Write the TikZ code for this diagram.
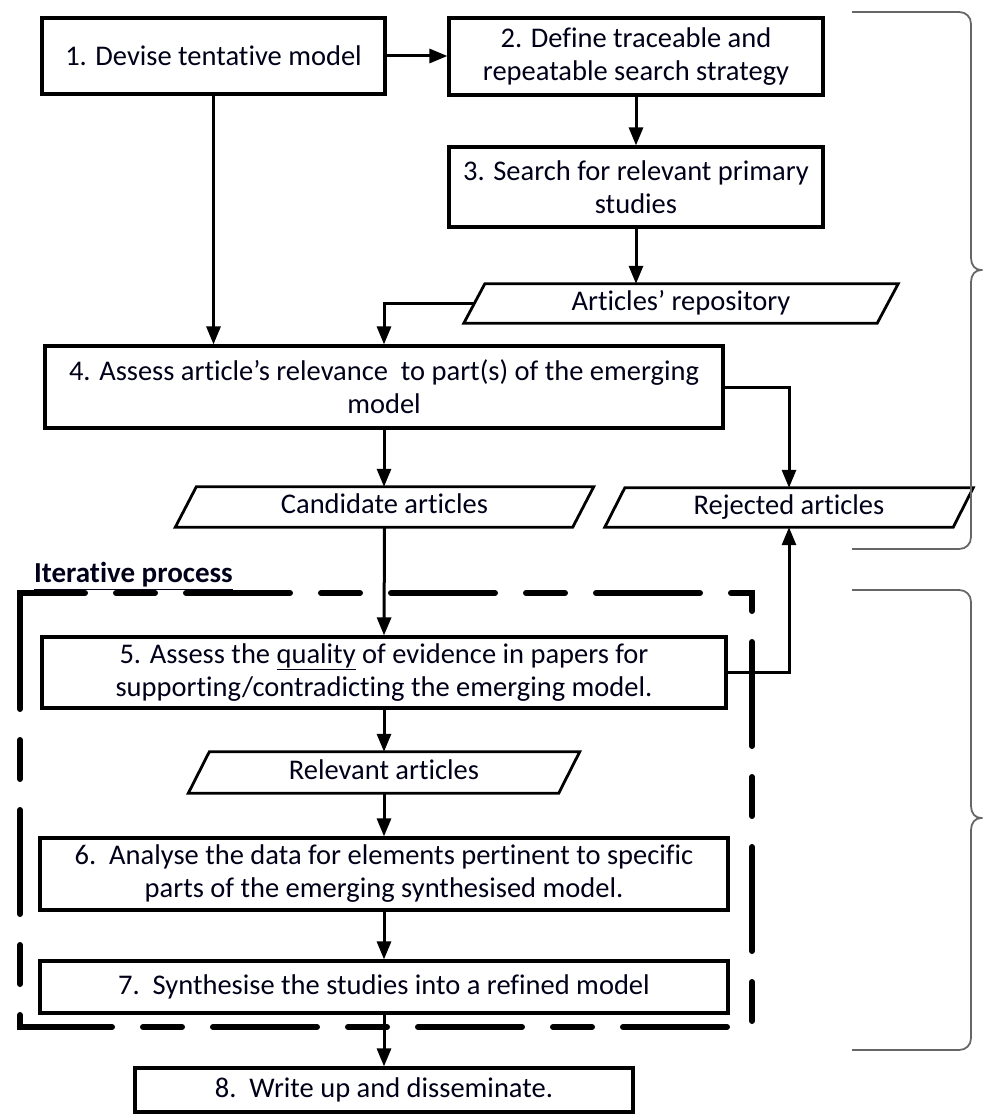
\documentclass[tikz,border=0pt]{standalone}
\usepackage{fontspec}
\setmainfont[Ligatures=NoCommon]{Carlito}
\usetikzlibrary{arrows.meta,calc}
\newcommand\drawpara[2]{\draw[boxline] ([xshift=-#2]#1.south west) -- ([xshift=#2]#1.north west) -- ([xshift=#2]#1.north east) -- ([xshift=-#2]#1.south east) -- cycle;}
\begin{document}
\begin{tikzpicture}[x=1pt,y=-1pt,
  txt/.style={font=\fontsize{28.5}{33}\selectfont, text=black!90!blue},
  stepbox/.style={txt, draw, line width=3.2pt, inner sep=0pt, align=center},
  paranode/.style={txt, inner sep=0pt, align=center, text height=19pt, text depth=6pt},
  boxline/.style={line width=2.8pt, line join=miter},
  arr/.style={line width=3pt, -{Triangle[length=18pt,width=14pt]}},
  bracestyle/.style={line width=1.8pt, draw=black!60},
  iterbox/.style={line width=6pt, line cap=round, dash pattern=on 104pt off 31pt on 39pt off 31pt, dash phase=0pt}
]
\useasboundingbox (0,0) rectangle (982,1118);

% boxes
\node[stepbox, minimum width=343pt, minimum height=76pt] (b1) at (213.5,56) {1. Devise tentative model};
\node[stepbox, minimum width=374pt, minimum height=77pt] (b2) at (636,56.5) {2. Define traceable and\\repeatable search strategy};
\node[stepbox, minimum width=374pt, minimum height=80pt] (b3) at (636,187) {3. Search for relevant primary\\studies};
\node[paranode, minimum width=413pt, minimum height=39pt] (repo) at (681,303.5) {Articles’ repository};
\drawpara{repo}{10.5pt}
\node[stepbox, minimum width=678pt, minimum height=82pt] (b4) at (384,387) {4. Assess article’s relevance\ \ to part(s) of the emerging\\model};
\node[paranode, minimum width=397pt, minimum height=40pt] (cand) at (384.5,507) {Candidate articles};
\drawpara{cand}{10.5pt}
\node[paranode, minimum width=348pt, minimum height=39pt] (rej) at (789,507.5) {Rejected articles};
\drawpara{rej}{10pt}
\node[stepbox, minimum width=684pt, minimum height=71pt] (b5) at (384,672.5) {5. Assess the \underline{quality} of evidence in papers for\\supporting/contradicting the emerging model.};
\node[paranode, minimum width=370pt, minimum height=41pt] (relev) at (384,772.5) {Relevant articles};
\drawpara{relev}{10.5pt}
\node[stepbox, minimum width=688pt, minimum height=72pt] (b6) at (384,874) {6.\ \ Analyse the data for elements pertinent to specific\\parts of the emerging synthesised model.};
\node[stepbox, minimum width=688pt, minimum height=52pt] (b7) at (384,987) {7.\ \ Synthesise the studies into a refined model};
\node[stepbox, minimum width=498pt, minimum height=44pt] (b8) at (384,1090) {8.\ \ Write up and disseminate.};

% iterative process
\node[txt, font=\fontsize{29}{33}\selectfont\bfseries, anchor=west, inner sep=0pt] (iter) at (34,576) {\underline{Iterative process}};
\coordinate (d1) at (20,593);
\coordinate (d2) at (752,1027);
\draw[iterbox] ($(d1)+(0,39)$) -- (d1) -- (d1 -| d2) -- (d2) -- (d1 |- d2) -- cycle;

% connectors
\draw[arr] (b1.east) -- (b1.east -| b2.west);
\draw[arr] (b1.south) -- (b1.south |- b4.north);
\draw[arr] (b2.south) -- (b3.north);
\draw[arr] (b3.south) -- (b3.south |- repo.north);
\draw[arr] (repo.west) -| (b4.north);
\draw[arr] (b4.south) -- (b4.south |- cand.north);
\draw[arr] (b4.east) -| (rej.north);
\draw[arr] (cand.south) -- (b5.north);
\draw[arr] (b5.east) -| (rej.south);
\draw[arr] (b5.south) -- (relev.north);
\draw[arr] (relev.south) -- (b6.north);
\draw[arr] (b6.south) -- (b7.north);
\draw[arr] (b7.south) -- (b8.north);

% braces
\draw[bracestyle] (852,12) -- (959,12) .. controls (966,12) and (971,17) .. (971,24) -- (971,258)
  .. controls (971,265) and (975,270) .. (981,270) .. controls (975,270) and (971,275) .. (971,282)
  -- (971,537) .. controls (971,544) and (966,549) .. (959,549) -- (852,549);
\draw[bracestyle] (852,590) -- (959,590) .. controls (966,590) and (971,595) .. (971,602) -- (971,806)
  .. controls (971,813) and (975,818) .. (981,818) .. controls (975,818) and (971,823) .. (971,830)
  -- (971,1038) .. controls (971,1045) and (966,1050) .. (959,1050) -- (852,1050);
\end{tikzpicture}
\end{document}
